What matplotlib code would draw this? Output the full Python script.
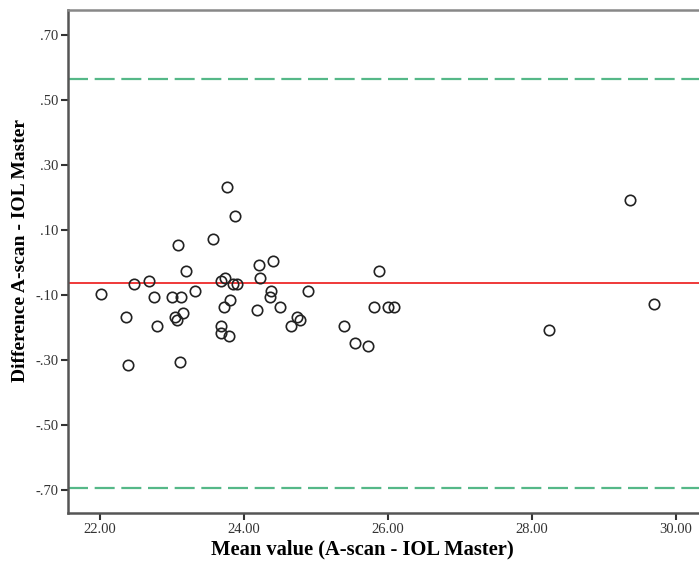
import numpy as np
import matplotlib.pyplot as plt

# mean of the two methods and their difference
mean_vals = [23.76, 23.88, 23.57, 23.09, 23.20, 24.21, 24.40, 22.68, 22.47, 23.68,
             23.74, 23.85, 23.91, 24.22, 22.01, 23.32, 22.75, 23.00, 23.13, 24.38,
             24.36, 24.89, 23.81, 23.72, 24.18, 24.50, 22.36, 23.04, 23.07, 23.16,
             24.73, 24.78, 24.66, 22.79, 23.68, 23.68, 23.79, 22.39, 23.11, 25.88,
             25.81, 26.00, 26.08, 25.39, 25.54, 25.72, 29.36, 29.70, 28.24]
diff_vals = [0.233, 0.143, 0.072, 0.053, -0.026, -0.007, 0.004, -0.056, -0.067, -0.056,
             -0.047, -0.067, -0.067, -0.047, -0.097, -0.087, -0.106, -0.106, -0.106, -0.087,
             -0.106, -0.087, -0.116, -0.136, -0.146, -0.136, -0.167, -0.167, -0.177, -0.156,
             -0.167, -0.177, -0.196, -0.196, -0.196, -0.217, -0.226, -0.315, -0.305, -0.026,
             -0.136, -0.136, -0.136, -0.196, -0.247, -0.256, 0.192, -0.127, -0.208]

mean_diff = -0.064
upper_loa = 0.565
lower_loa = -0.695

xticks = [22, 24, 26, 28, 30]
yticks = [0.7, 0.5, 0.3, 0.1, -0.1, -0.3, -0.5, -0.7]

plt.rcParams['font.family'] = ['Liberation Serif', 'DejaVu Serif']

fig = plt.figure(figsize=(6.99, 5.65), dpi=100)
ax = fig.add_axes([68 / 699, 1 - 513 / 565, 1 - 68 / 699, 503 / 565])

ax.axhline(upper_loa, color='#55b888', lw=1.6, dashes=(9, 3))
ax.axhline(lower_loa, color='#55b888', lw=1.6, dashes=(9, 3))
ax.axhline(mean_diff, color='#ee2a2a', lw=1.3)
ax.plot(mean_vals, diff_vals, 'o', mfc='none', mec='#222222', mew=1.2, ms=7.5, ls='none')

ax.set_xlim(21.556, 30.32)
ax.set_ylim(-0.771, 0.777)
ax.set_xticks(xticks)
ax.set_xticklabels(['%.2f' % v for v in xticks])
ax.set_yticks(yticks)
ax.set_yticklabels([('%.2f' % v).replace('0.', '.') for v in yticks])

for side in ['left', 'bottom']:
    ax.spines[side].set_color('#555555')
    ax.spines[side].set_linewidth(1.8)
ax.spines['top'].set_color('#888888')
ax.spines['top'].set_linewidth(1.8)
ax.spines['right'].set_visible(False)
ax.tick_params(direction='out', length=5, width=1.5, color='#333333',
               labelsize=10.5, labelcolor='#333333', pad=2)

ax.set_xlabel('Mean value (A-scan - IOL Master)', fontsize=14.8, fontweight='bold')
ax.set_ylabel('Difference A-scan - IOL Master', fontsize=14, fontweight='bold')
ax.xaxis.set_label_coords((362 - 68) / 631, -26 / 503)
ax.yaxis.set_label_coords(-39 / 631, (513 - 250) / 503)

fig.savefig('out.png', dpi=100)
